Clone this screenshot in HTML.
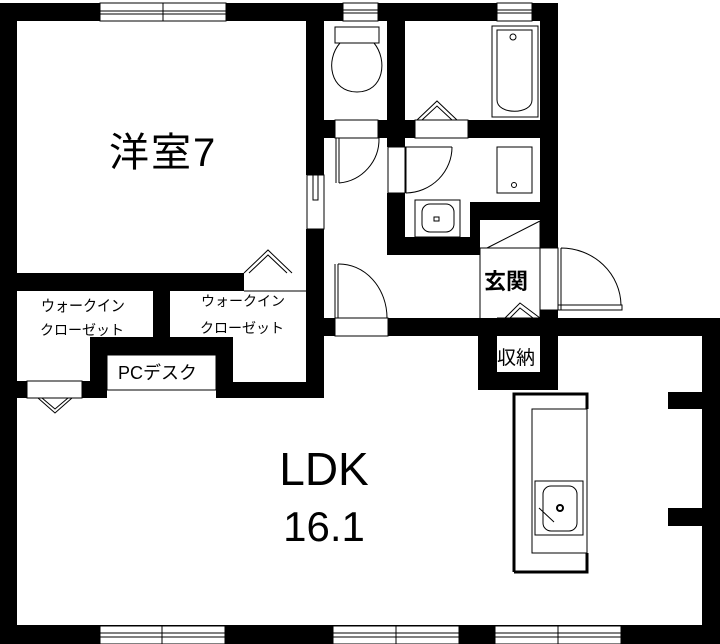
<!DOCTYPE html>
<html><head><meta charset="utf-8"><style>
html,body{margin:0;padding:0;background:#fff;width:720px;height:644px;overflow:hidden}
svg{display:block}
text{font-family:"Liberation Sans","Noto Sans CJK JP",sans-serif;fill:#000}
</style></head><body>
<svg width="720" height="644" viewBox="0 0 720 644" xmlns="http://www.w3.org/2000/svg">
<g fill="#000">
<rect x="0" y="3" width="558" height="18"/>
<rect x="0" y="3" width="17" height="641"/>
<rect x="0" y="625" width="720" height="19"/>
<rect x="702" y="318" width="18" height="326"/>
<rect x="668" y="392" width="36" height="17"/>
<rect x="668" y="508" width="36" height="18"/>
<rect x="540" y="3" width="18" height="245"/>
<rect x="540" y="310" width="18" height="26"/>
<rect x="306" y="3" width="18" height="172"/>
<rect x="306" y="229" width="18" height="169"/>
<rect x="0" y="273" width="244" height="18"/>
<rect x="153" y="273" width="17" height="64"/>
<rect x="90" y="337" width="143" height="18"/>
<rect x="90" y="337" width="17" height="61"/>
<rect x="216" y="337" width="17" height="61"/>
<rect x="216" y="382" width="107" height="16"/>
<rect x="17" y="381" width="10" height="17"/>
<rect x="82" y="381" width="25" height="17"/>
<rect x="387" y="3" width="18" height="144"/>
<rect x="387" y="193" width="18" height="62"/>
<rect x="324" y="120" width="11" height="18"/>
<rect x="378" y="120" width="37" height="18"/>
<rect x="468" y="120" width="90" height="18"/>
<rect x="387" y="237" width="93" height="18"/>
<rect x="470" y="202" width="88" height="18"/>
<rect x="470" y="202" width="10" height="53"/>
<rect x="306" y="318" width="29" height="18"/>
<rect x="388" y="318" width="170" height="18"/>
<rect x="558" y="318" width="162" height="18"/>
<rect x="478" y="318" width="19" height="72"/>
<rect x="540" y="318" width="18" height="72"/>
<rect x="478" y="372" width="80" height="18"/>
</g>
<g fill="#fff" stroke="#000" stroke-width="1">
<rect x="100" y="3" width="126" height="18"/>
<rect x="343" y="3" width="35" height="18"/>
<rect x="497" y="3" width="35" height="18"/>
<rect x="100" y="626" width="125" height="18"/>
<rect x="333" y="626" width="126" height="18"/>
<rect x="495" y="626" width="126" height="18"/>
<rect x="27" y="381" width="55" height="17"/>
</g>
<g stroke="#000" stroke-width="1" fill="none">
<path d="M100 11H226M100 14H226M163 3V21M155 11H170"/>
<path d="M343 10H378M343 13H378M497 10H532M497 13H532"/>
<path d="M100 633H225M100 637H225M162 626V644M155 633H170"/>
<path d="M333 633H459M333 637H459M396 626V644M390 633H404"/>
<path d="M495 633H621M495 637H621M558 626V644M552 633H566"/>
<path d="M38 398L55 413L72 398M42 398L55 409L68 398"/>
<path d="M244 291H306M244 273L268 250L292 273M249 273L268 255L287 273"/>
<rect x="307" y="175" width="17" height="54"/>
<rect x="313" y="122" width="5" height="23"/>
<rect x="313" y="147" width="5" height="53"/>
<rect x="335" y="27" width="44" height="16"/>
<path d="M340 43C325 60 330 92 357 92C384 92 388 60 374 43"/>
<rect x="335" y="120" width="43" height="18"/>
<path d="M336 138V183M339 138V183M339 183A44 44 0 0 0 379 138"/>
<rect x="415" y="120" width="53" height="18"/>
<path d="M417 120L437 101L457 120M422 120L437 106L452 120"/>
<rect x="492" y="26" width="46" height="91"/>
<path d="M497 30H532V100C532 115 497 115 497 100Z"/>
<circle cx="513" cy="37" r="3"/>
<rect x="388" y="147" width="17" height="46"/>
<path d="M405 147H452M406 147V193M406 193A47 46 0 0 0 452 147"/>
<rect x="497" y="147" width="35" height="46"/>
<circle cx="514" cy="185" r="2.5"/>
<rect x="415" y="200" width="45" height="37"/>
<rect x="422" y="204" width="32" height="28" rx="8"/>
<rect x="434" y="217" width="5" height="4"/>
<path d="M480 248H540M487 248L540 221M540 221V318M480 248V318"/>
<path d="M497 318H540M505 318L520 303L540 318M510 318L520 308L533 318"/>
<rect x="540" y="248" width="18" height="62"/>
<path d="M558 248V310M561 248V310M558 305H622V310H558M561 248A60 58 0 0 1 621 305"/>
<rect x="335" y="318" width="53" height="18"/>
<path d="M335 264V318M338 264V318M338 264A48 54 0 0 1 387 318"/>
<rect x="107" y="355" width="109" height="35"/>
<rect x="532" y="409" width="55" height="144"/>
<rect x="535" y="481" width="48" height="54"/>
<rect x="543" y="486" width="34" height="45" rx="8"/>
<path d="M539 508L554 522"/>
<circle cx="560" cy="508" r="3" stroke-width="2"/>
</g>
<path d="M514 572V394H587V409M587 553V572H514" stroke="#000" stroke-width="3" fill="none"/>
<text x="109" y="166" font-size="40" letter-spacing="2">洋室7</text>
<text x="41" y="310" font-size="14" transform="translate(0,-30) scale(1,1.1)">ウォークイン</text>
<text x="40" y="335" font-size="14">クローゼット</text>
<text x="201" y="306" font-size="14">ウォークイン</text>
<text x="200" y="333" font-size="14">クローゼット</text>
<text x="118" y="379" font-size="18">PCデスク</text>
<text x="484" y="289" font-size="22" font-weight="bold">玄関</text>
<text x="497" y="364" font-size="19">収納</text>
<text x="324" y="485" font-size="46" text-anchor="middle">LDK</text>
<text x="324" y="541" font-size="42" text-anchor="middle">16.1</text>
</svg>
</body></html>
